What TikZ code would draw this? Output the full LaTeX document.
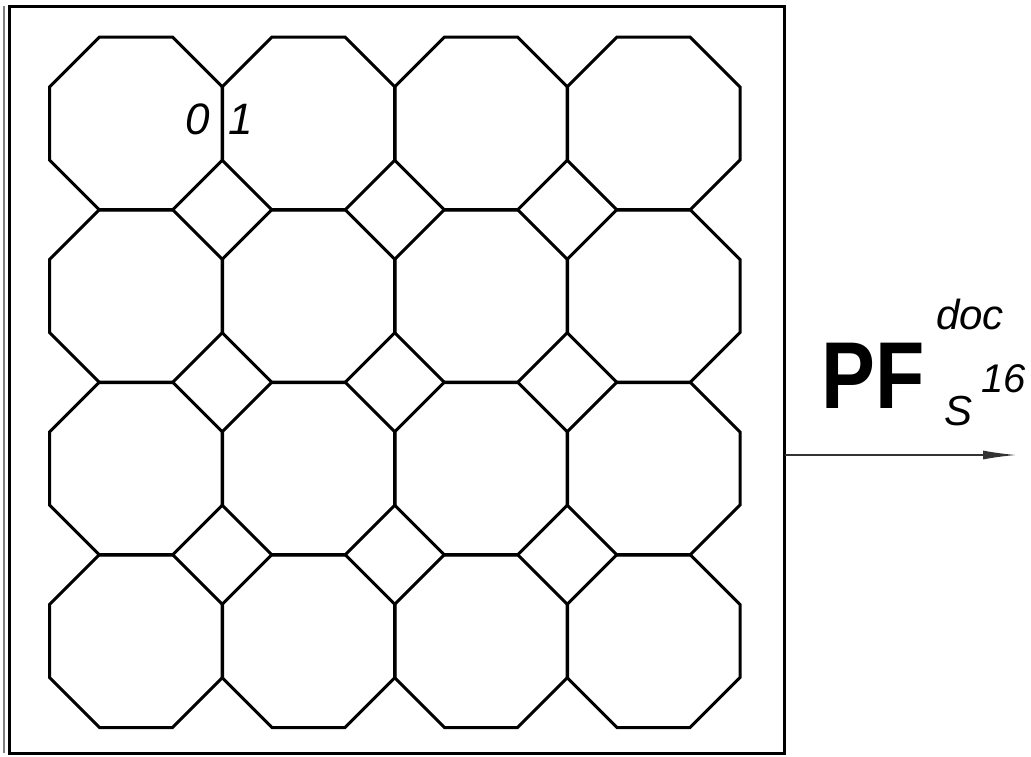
\documentclass[tikz,border=0pt]{standalone}
\usepackage{fontspec}
\setmainfont{Liberation Sans}
\usetikzlibrary{arrows.meta}

\begin{document}
\begin{tikzpicture}[x=1pt,y=-1pt]
\tikzstyle{octo} = [black,line width=3pt,line join=miter];
\tikzstyle{cadre} = [black,line width=3pt];
\tikzstyle{chiffre} = [inner sep=0pt,anchor=base west,font=\fontsize{44}{44}\selectfont\itshape];
\tikzstyle{indice} = [inner sep=0pt,anchor=base west,font=\fontsize{42}{42}\selectfont\itshape];

\useasboundingbox (0,0) rectangle (1031,756);

% cadre
\draw[gray,line width=2pt] (4,6)--(4,753);
\draw[cadre] (9,6) rectangle (784,753);

% pavage octogones
\foreach \i in {0,...,3}{
	\foreach \j in {0,...,3}{
		\draw[octo,shift={(136+172.5*\i,123.5+172.5*\j)}]
			(-36.5,-86.5)--(36.5,-86.5)--(86.5,-36.5)--(86.5,36.5)
			--(36.5,86.5)--(-36.5,86.5)--(-86.5,36.5)--(-86.5,-36.5)--cycle;
	}
}

\node[chiffre] (zero) at (185,134) {0};
\node[chiffre] (un) at (228,134) {1};

% fleche
\coordinate (depart) at (785,455);
\coordinate (fin) at (1016,455);
\draw[black!80,line width=1.3pt,-{Latex[length=33pt,width=9pt]}] (depart)--(fin);

\node[inner sep=0pt,anchor=base west] (pf) at (821,408)
	{\scalebox{0.85}[1]{\fontsize{95}{95}\selectfont\bfseries PF}};
\node[indice] (doc) at (936,329) {doc};
\node[indice] (s) at (944,425) {S};
\node[indice,font=\fontsize{40}{40}\selectfont\itshape] (seize) at (981,392) {16};
%\node at (900,600) {};

\end{tikzpicture}
\end{document}
